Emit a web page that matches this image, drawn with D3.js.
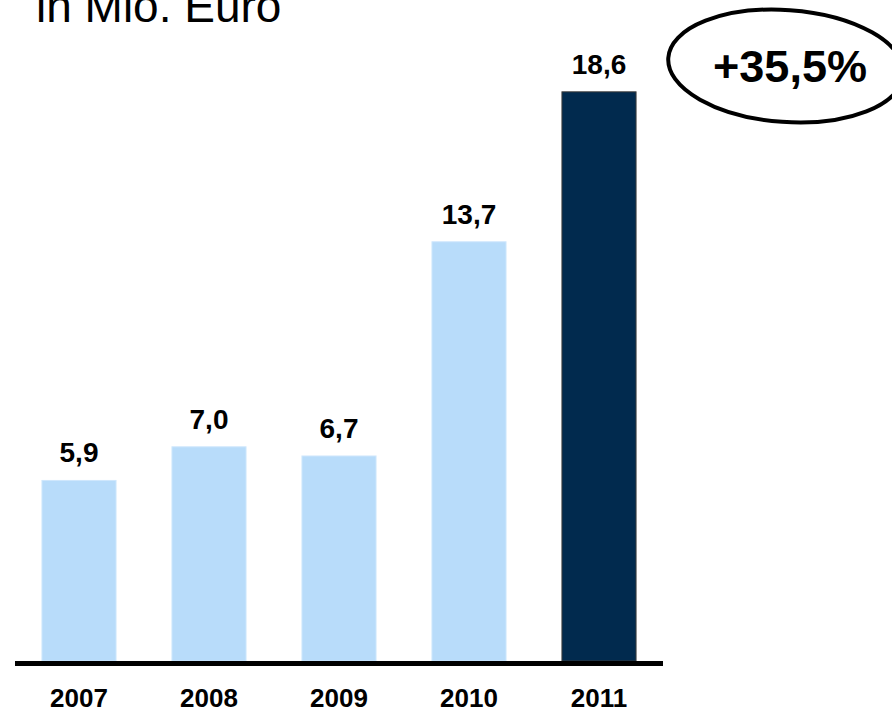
<!DOCTYPE html>
<html>
<head>
<meta charset="utf-8">
<script src="https://cdn.jsdelivr.net/npm/d3@7"></script>
<style>
  html, body { margin: 0; padding: 0; background: #fff; overflow: hidden; }
  text { font-family: "Liberation Sans", Arial, sans-serif; fill: #000; }
</style>
</head>
<body>
<svg id="chart" width="892" height="711"></svg>
<script>
// data
var years = ["2007", "2008", "2009", "2010", "2011"]
var values = [5.9, 7.0, 6.7, 13.7, 18.6]
var valueLabels = ["5,9", "7,0", "6,7", "13,7", "18,6"]
var growthLabel = "+35,5%"
var unitLabel = "in Mio. Euro"

var svg = d3.select("#chart")

var x = d3.scaleBand()
    .domain(years)
    .range([14, 664])
    .paddingInner(0.43)
    .paddingOuter(0.215)

var y = d3.scaleLinear()
    .domain([0, 20])
    .range([661, 49])

// unit title, cut off at the top like the slide
svg.append("text")
    .attr("x", 36)
    .attr("y", 22)
    .style("font-size", "46px")
    .text(unitLabel)

// bars
svg.selectAll("rect.bar")
    .data(values)
    .enter().append("rect")
    .attr("class", "bar")
    .attr("x", function(d, i) { return x(years[i]) })
    .attr("y", function(d) { return y(d) })
    .attr("width", x.bandwidth())
    .attr("height", function(d) { return y(0) - y(d) })
    .attr("fill", function(d, i) { return i == values.length - 1 ? "#012a4e" : "#b8dcfa" })
    .attr("stroke", function(d, i) { return i == values.length - 1 ? "#3a3a3a" : "#cfe7fc" })
    .attr("stroke-width", 1)

// value labels
svg.selectAll("text.val")
    .data(values)
    .enter().append("text")
    .attr("class", "val")
    .attr("x", function(d, i) { return x(years[i]) + x.bandwidth() / 2 })
    .attr("y", function(d) { return y(d) - 18 })
    .attr("text-anchor", "middle")
    .style("font-size", "28px")
    .style("font-weight", "bold")
    .text(function(d, i) { return valueLabels[i] })

// x axis: thick base line + year labels
var xAxis = d3.axisBottom(x).tickSize(0).tickPadding(0)
var gx = svg.append("g")
    .attr("transform", "translate(0,663.5)")
    .call(xAxis)
gx.select(".domain")
    .attr("d", "M15,0H663")
    .attr("stroke", "#000")
    .attr("stroke-width", 5)
gx.selectAll(".tick text")
    .attr("y", 43)
    .attr("dy", 0)
    .style("font-family", "'Liberation Sans', Arial, sans-serif")
    .style("font-size", "26px")
    .style("font-weight", "bold")
    .attr("fill", "#000")

// growth callout
svg.append("ellipse")
    .attr("cx", 786)
    .attr("cy", 66)
    .attr("rx", 118)
    .attr("ry", 56)
    .attr("transform", "rotate(4,786,66)")
    .attr("fill", "none")
    .attr("stroke", "#000")
    .attr("stroke-width", 4)

svg.append("text")
    .attr("x", 790)
    .attr("y", 82)
    .attr("text-anchor", "middle")
    .style("font-size", "45px")
    .style("font-weight", "bold")
    .text(growthLabel)
</script>
</body>
</html>
